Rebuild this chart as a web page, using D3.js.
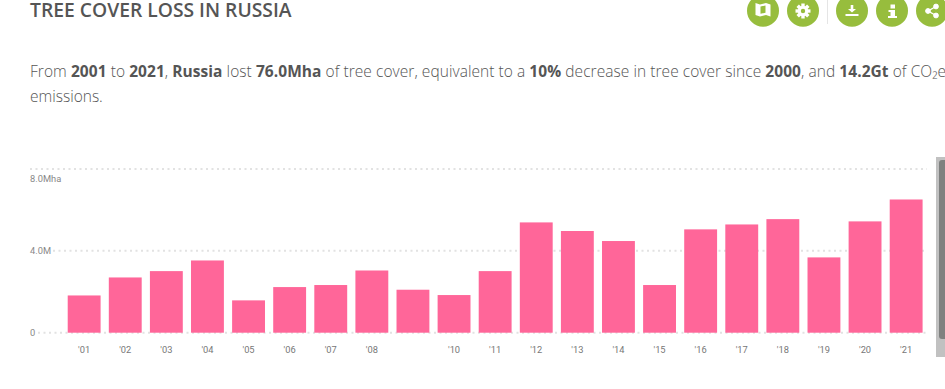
<!DOCTYPE html>
<html lang="en">
<head>
<meta charset="UTF-8">
<title>Tree cover loss in Russia</title>
<script src="https://d3js.org/d3.v7.min.js"></script>
<style>
    html, body { margin: 0; padding: 0; background: #fff; overflow: hidden; }
    svg { display: block; font-family: "Open Sans", "Noto Sans", sans-serif; }
    .title { font-size: 19.3px; font-weight: 600; fill: #555; }
    .intro { font-size: 15.5px; font-weight: 300; fill: #555; }
    .intro .b { font-weight: 700; fill: #555; }
    .axis path { display: none; }
    .axis text { font-family: Roboto, sans-serif; font-size: 9.3px; fill: #777; }
    .grid line { stroke: #e2e2e2; stroke-width: 2; stroke-dasharray: 2 3.5; }
</style>
</head>
<body>
<svg id="chart" width="945" height="389"></svg>
<script>
    // values, Mha per year
    const years = ["2001","2002","2003","2004","2005","2006","2007","2008","2009","2010","2011",
                   "2012","2013","2014","2015","2016","2017","2018","2019","2020","2021"];
    const loss = [1.82,2.70,3.01,3.53,1.58,2.23,2.33,3.04,2.10,1.84,3.01,
                  5.39,4.97,4.48,2.33,5.05,5.29,5.55,3.68,5.44,6.51];
    // the '09 label is missing in the original
    const yearLabels = ["'01","'02","'03","'04","'05","'06","'07","'08","","'10","'11",
                        "'12","'13","'14","'15","'16","'17","'18","'19","'20","'21"];
    const yTicks = [0, 4, 8];
    const yTickLabels = ["0", "4.0M", "8.0Mha"];

    const svg = d3.select("#chart");

    svg.append("text").attr("class", "title").attr("x", 30).attr("y", 17).text("TREE COVER LOSS IN RUSSIA");

    // intro text, two lines
    const line1 = [["From ",0],["2001",1],[" to ",0],["2021",1],[", ",0],["Russia",1],[" lost ",0],["76.0Mha",1],
                   [" of tree cover, equivalent to a ",0],["10%",1],[" decrease in tree cover since ",0],["2000",1],
                   [", and ",0],["14.2Gt",1],[" of CO₂e",0]];
    const t1 = svg.append("text").attr("class", "intro").attr("x", 30).attr("y", 77)
        .attr("textLength", 916).attr("lengthAdjust", "spacing");
    line1.forEach(d => t1.append("tspan").attr("class", d[1] ? "b" : null).text(d[0]));
    svg.append("text").attr("class", "intro").attr("x", 30).attr("y", 102).text("emissions.");

    // scales
    const x = d3.scaleBand().domain(years).range([63.6, 926.7]).paddingInner(0.2).paddingOuter(0.1);
    const y = d3.scaleLinear().domain([0, 8]).range([332.7, 169]);

    // dotted grid lines, broken where the y labels sit
    const gridStart = [38, 53, 30];
    svg.append("g").attr("class", "grid").selectAll("line").data(yTicks).join("line")
        .attr("x1", (d, i) => gridStart[i])
        .attr("x2", 927)
        .attr("y1", d => y(d)).attr("y2", d => y(d));

    // bars
    svg.append("g").selectAll("rect").data(years).join("rect")
        .attr("x", d => x(d))
        .attr("y", (d, i) => y(loss[i]))
        .attr("width", x.bandwidth())
        .attr("height", (d, i) => y(0) - y(loss[i]))
        .attr("fill", "#ff6699");

    // axes
    svg.append("g").attr("class", "axis").attr("transform", "translate(0,350)")
        .call(d3.axisBottom(x).tickSize(0).tickPadding(0).tickFormat((d, i) => yearLabels[i]))
        .selectAll("text").attr("dy", "0.35em");

    const yAxis = svg.append("g").attr("class", "axis")
        .call(d3.axisRight(y).tickValues(yTicks).tickSize(0).tickPadding(30).tickFormat((d, i) => yTickLabels[i]));
    yAxis.selectAll("text").attr("dy", (d, i) => i == 2 ? "1.35em" : "0.3em").style("fill", "#888");

    // buttons
    const green = "#97bd3d";
    const btn = [763, 803, 852, 892, 932];
    svg.append("g").selectAll("circle").data(btn).join("circle")
        .attr("cx", d => d).attr("cy", 10.7).attr("r", 16).attr("fill", green);
    svg.append("line").attr("x1", 827.5).attr("x2", 827.5).attr("y1", 0).attr("y2", 24).attr("stroke", "#e5e5e5");

    // map icon
    svg.append("path").attr("fill", "#fff").attr("fill-rule", "evenodd")
        .attr("d", "M755.500 3 L760 4.500 L766 3 L770.500 4.500 L770.500 16.500 L766 15 L760 16.500 L755.500 15 Z M760.500 6.500 L760.500 13.800 L765.500 12.800 L765.500 5.500 Z");

    // gear icon
    const gear = svg.append("g").attr("transform", "translate(803,11)").attr("fill", "#fff");
    d3.range(8).forEach(i => gear.append("rect").attr("x", -1.7).attr("y", -7.500).attr("width", 3.4).attr("height", 4)
        .attr("transform", `rotate(${i * 45})`));
    gear.append("circle").attr("r", 3.7).attr("fill", "none").attr("stroke", "#fff").attr("stroke-width", 3);

    // download icon
    svg.append("path").attr("fill", "#fff")
        .attr("d", "M850.700 5 H853.300 V9 H856 L852 12.500 L848 9 H850.700 Z M845.500 14 H858.500 V16 H845.500 Z");

    // info icon
    svg.append("path").attr("fill", "#fff")
        .attr("d", "M890.500 4.500 H895 V8.500 H890.500 Z M888.500 10 H895 V16 H897 V18 H888 V16 H890.500 V12 H888.500 Z");

    // share icon
    const share = svg.append("g").attr("fill", "#fff").attr("stroke", "#fff");
    share.append("path").attr("fill", "none").attr("stroke-width", 1.4).attr("d", "M936 6.500 L928 11 L936 15.500");
    [[928, 11], [936, 6.500], [936, 15.500]].forEach(p => share.append("circle").attr("cx", p[0]).attr("cy", p[1]).attr("r", 2.4));

    // scrollbar
    svg.append("rect").attr("x", 936).attr("y", 157).attr("width", 9).attr("height", 200).attr("fill", "#c1c1c1");
    svg.append("rect").attr("x", 939).attr("y", 160).attr("width", 8).attr("height", 179).attr("rx", 3).attr("fill", "#7f8180");
</script>
</body>
</html>
